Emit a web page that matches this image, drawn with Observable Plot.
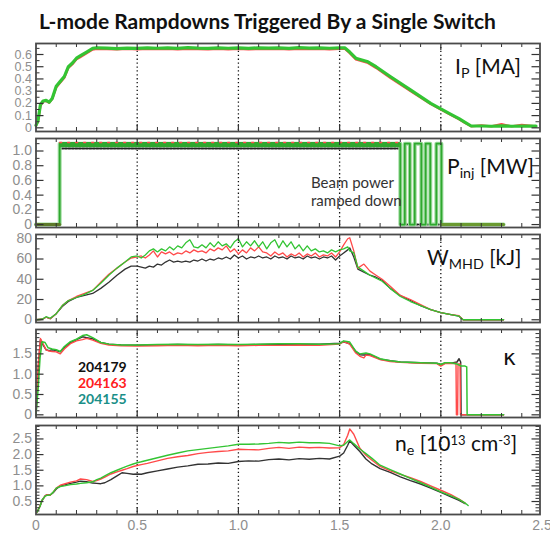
<!DOCTYPE html>
<html><head><meta charset="utf-8">
<script src="https://cdn.jsdelivr.net/npm/d3@7"></script>
<script src="https://cdn.jsdelivr.net/npm/@observablehq/plot@0.6"></script>
<style>
body{margin:0;background:#fff;}
#chart{position:relative;width:550px;height:535px;overflow:hidden;background:#fff;}
.lbl{position:absolute;white-space:nowrap;color:#111;line-height:1;font-family:Lato,"Open Sans",sans-serif;}
.sub{font-size:0.68em;position:relative;top:0.3em;}
.sup{font-size:0.62em;position:relative;top:-0.45em;}
</style></head><body><div id="chart"></div>
<script>
// ---------- shots ----------
const shots = ["204179", "204163", "204155"];
const shotColors = ["#111111", "#ff2020", "#1a8f88"];

// ---------- shared x ticks ----------
const gridX = [0.5, 1.0, 1.5, 2.0];
const xMajorTicks = [0.5, 1.0, 1.5, 2.0];
const xMinorTicks = [0.1,0.2,0.3,0.4,0.6,0.7,0.8,0.9,1.1,1.2,1.3,1.4,1.6,1.7,1.8,1.9,2.1,2.2,2.3,2.4];
const xLabelTicks = [0, 0.5, 1.0, 1.5, 2.0, 2.5];
const xLabelText = ["0", "0.5", "1.0", "1.5", "2.0", "2.5"];

// ---------- Panel 1: Ip [MA] ----------
const ipT = [0,0.01,0.022,0.035,0.05,0.065,0.08,0.1,0.12,0.14,0.16,0.18,0.2,0.22,0.25,0.28,0.3,0.35,0.4,0.45,0.5,0.55,0.6,0.65,0.7,0.75,0.8,0.85,0.9,0.95,1.0,1.05,1.1,1.15,1.2,1.25,1.3,1.35,1.4,1.45,1.5,1.525,1.55,1.58,1.61,1.64,1.68,1.75,1.85,1.95,2.0,2.05,2.09,2.12,2.15,2.2,2.25,2.3,2.35,2.4,2.47];
const ipGreen = [0.02,0.06,0.19,0.22,0.225,0.21,0.24,0.34,0.38,0.42,0.5,0.53,0.57,0.59,0.62,0.65,0.655,0.652,0.648,0.652,0.65,0.655,0.651,0.654,0.65,0.656,0.652,0.65,0.655,0.651,0.654,0.65,0.655,0.652,0.654,0.65,0.656,0.652,0.655,0.651,0.654,0.655,0.62,0.57,0.555,0.54,0.5,0.42,0.31,0.2,0.155,0.11,0.075,0.045,0.015,0.015,0.013,0.016,0.013,0.015,0.014];
const ipRed = [0.02,0.05,0.18,0.215,0.22,0.205,0.235,0.33,0.37,0.41,0.49,0.52,0.56,0.58,0.61,0.64,0.645,0.643,0.641,0.645,0.642,0.646,0.643,0.645,0.641,0.646,0.643,0.641,0.645,0.642,0.645,0.641,0.646,0.643,0.645,0.641,0.646,0.643,0.646,0.642,0.645,0.648,0.61,0.56,0.545,0.53,0.49,0.41,0.3,0.195,0.15,0.105,0.07,0.04,0.012,0.02,0.012,0.03,0.012,0.025,0.012];
const ipBlack = [0.02,0.055,0.185,0.218,0.222,0.208,0.238,0.335,0.375,0.415,0.495,0.525,0.565,0.585,0.615,0.645,0.65,0.648,0.645,0.648,0.646,0.65,0.647,0.65,0.646,0.65,0.647,0.646,0.65,0.646,0.65,0.646,0.65,0.647,0.65,0.646,0.65,0.647,0.65,0.646,0.65,0.652,0.615,0.565,0.55,0.535,0.495,0.415,0.305,0.198,0.152,0.108,0.072,0.042,0.013,0.014,0.012,0.014,0.012,0.014,0.012];
const ipMajor = [0,0.1,0.2,0.3,0.4,0.5,0.6];
const ipMinor = [0.05,0.15,0.25,0.35,0.45,0.55,0.65];

// ---------- Panel 2: Pinj [MW] ----------
const pGreenT = [0,0.117,0.117,1.80,1.80,1.822,1.822,1.847,1.847,1.871,1.871,1.904,1.904,1.925,1.925,1.948,1.948,1.978,1.978,2.003,2.003,2.31];
const pGreen  = [0,0,1.1,1.1,0,0,1.1,1.1,0,0,1.1,1.1,0,0,1.1,1.1,0,0,1.1,1.1,0,0];
const pRedT = [0,0.117,0.117,1.797,1.797,1.826,1.826,1.85,1.85,1.874,1.874,1.906,1.906,1.927,1.927,1.95,1.95,1.98,1.98,2.003,2.003];
const pRed  = [0,0,1.11,1.11,0,0,1.1,1.1,0,0,1.1,1.1,0,0,1.1,1.1,0,0,1.1,1.1,0];
const pBlackT = [0,0.117,0.117,1.80,1.80,2.31];
const pBlack  = [0,0,1.035,1.035,0,0];
const pBandT  = [0.117,1.80];
const pBandLo = [1.045,1.045];
const pBandHi = [1.115,1.115];
const pMajor = [0,0.2,0.4,0.6,0.8,1.0];
const pMinor = [0.1,0.3,0.5,0.7,0.9,1.1];

// ---------- Panel 3: W_MHD [kJ] ----------
const wT = [0,0.03,0.05,0.07,0.1,0.13,0.16,0.2,0.24,0.28,0.32,0.36,0.4,0.44,0.47,
 0.5,0.52,0.54,0.56,0.58,0.6,0.62,0.64,0.66,0.68,0.7,0.72,0.74,0.76,0.78,0.8,0.82,0.84,0.86,0.88,0.9,0.92,0.94,0.96,0.98,1.0,1.02,1.04,1.06,1.08,1.1,1.12,1.14,1.16,1.18,1.2,1.22,1.24,1.26,1.28,1.3,1.32,1.34,1.36,1.38,1.4,1.42,1.44,1.46,1.48,1.5,1.52,1.54,
 1.55,1.57,1.59,1.62,1.65,1.68,1.71,1.75,1.8,1.85,1.9,1.95,2.0,2.05,2.09,2.11,2.2,2.31];
const wBlack = [0,0.5,2.5,1,6,13,18,22,24,26,31,37,44,50,53,
 53,52,51,53,52,55,54,57,59,57,58,57,58,57,59,58,60,58,60,59,61,60,62,60,64,61,63,60,62,61,63,61,62,60,63,61,62,60,63,61,62,60,63,61,62,60,62,61,63,59,63,66,69,
 71,62,50,47,44,42,39,31,24,19,14,10,7,5,3.5,0,0,0];
const wRed = [0,0.5,2.5,1,6,14,19,23,26,29,37,45,51,57,61,
 62,63,61,64,68,62,67,65,67,64,66,65,68,66,69,67,68,66,70,68,71,69,73,67,70,65,69,66,71,68,72,67,
 66,63,67,64,66,62,65,63,66,62,65,63,66,62,64,63,66,62,67,74,80,
 81,68,51,55,48,44,40,33,24,20,15,10,7,5,4,0,0,0];
const wGreen = [0,0.5,3,1.5,6,14,19,22,25,29,36,44,51,57,62,
 63,61,64,68,70,67,70,68,72,69,73,71,76,79,72,71,74,71,76,72,77,73,75,71,77,80,72,77,73,78,72,77,70,76,79,71,78,72,77,70,74,68,73,68,70,67,68,66,69,67,69,70,72,
 68,66,52,48,44,41,38,31,23,18,14,10,7,5,3.5,0,0,0];
const wMajor = [0,20,40,60,80];
const wMinor = [10,30,50,70];

// ---------- Panel 4: kappa ----------
const kBlackT = [0,0.012,0.022,0.035,0.05,0.065,0.08,0.1,0.12,0.14,0.17,0.2,0.23,0.25,0.28,0.32,0.36,0.42,0.5,0.6,0.7,0.8,0.9,1.0,1.1,1.2,1.3,1.4,1.5,1.52,1.55,1.58,1.6,1.62,1.65,1.7,1.75,1.8,1.9,1.98,2.0,2.02,2.05,2.08,2.09,2.098,2.1,2.2,2.31];
const kBlack  = [0,1.2,1.85,1.72,1.6,1.58,1.6,1.58,1.55,1.65,1.78,1.85,1.92,1.9,1.87,1.78,1.74,1.72,1.71,1.72,1.73,1.72,1.73,1.72,1.73,1.74,1.74,1.74,1.76,1.8,1.75,1.56,1.48,1.47,1.48,1.37,1.33,1.3,1.28,1.27,1.24,1.27,1.27,1.3,1.38,1.3,0,0,0];
const kRedT = [0,0.012,0.022,0.035,0.05,0.065,0.08,0.1,0.12,0.14,0.17,0.2,0.23,0.25,0.28,0.32,0.36,0.42,0.5,0.6,0.7,0.8,0.9,1.0,1.1,1.2,1.3,1.4,1.5,1.52,1.55,1.58,1.6,1.62,1.63,1.65,1.7,1.75,1.8,1.9,1.98,2.0,2.02,2.05,2.075,2.077,2.083,2.085,2.095,2.097,2.2,2.31];
const kRed  = [0,1.3,1.88,1.75,1.6,1.57,1.56,1.55,1.5,1.62,1.75,1.82,1.85,1.88,1.84,1.76,1.72,1.7,1.69,1.7,1.71,1.7,1.71,1.7,1.71,1.71,1.72,1.71,1.74,1.8,1.74,1.52,1.44,1.4,1.47,1.46,1.36,1.31,1.29,1.27,1.26,1.2,1.26,1.26,1.27,0,0,1.25,1.25,0,0,0];
const kGreenT = [0,0.01,0.02,0.03,0.045,0.06,0.08,0.1,0.12,0.14,0.17,0.2,0.23,0.25,0.28,0.32,0.36,0.42,0.5,0.6,0.7,0.8,0.9,1.0,1.1,1.2,1.3,1.4,1.5,1.52,1.55,1.58,1.6,1.63,1.65,1.7,1.75,1.8,1.9,1.98,2.0,2.02,2.05,2.08,2.1,2.12,2.128,2.13,2.2,2.31];
const kGreen  = [0,0.6,1.4,1.8,1.78,1.65,1.62,1.6,1.56,1.68,1.8,1.86,1.95,1.97,1.9,1.78,1.74,1.72,1.72,1.73,1.74,1.73,1.74,1.73,1.74,1.75,1.75,1.74,1.75,1.82,1.79,1.56,1.5,1.52,1.5,1.38,1.33,1.3,1.28,1.27,1.24,1.28,1.28,1.25,1.2,1.2,1.18,0,0,0];
const kMajor = [0,0.5,1.0,1.5];
const kMinor = [0.1,0.2,0.3,0.4,0.6,0.7,0.8,0.9,1.1,1.2,1.3,1.4,1.6,1.7,1.8,1.9,2.0];

// ---------- Panel 5: ne [1e13 cm^-3] ----------
const neT = [0.005,0.02,0.03,0.045,0.055,0.07,0.085,0.1,0.12,0.14,0.17,0.2,0.22,0.25,0.28,0.3,0.32,0.34,0.37,0.4,0.425,0.45,0.48,0.5,0.52,0.55,0.6,0.65,0.7,0.75,0.8,0.85,0.9,0.95,1.0,1.05,1.1,1.15,1.2,1.25,1.3,1.35,1.4,1.45,1.5,1.52,1.54,1.55,1.57,1.6,1.63,1.66,1.7,1.75,1.8,1.85,1.9,1.95,2.0,2.05,2.09,2.12,2.135];
const neBlack = [0.16,0.35,0.53,0.68,0.72,0.71,0.78,0.9,1.0,1.03,1.08,1.12,1.15,1.13,1.09,1.08,1.07,1.1,1.2,1.32,1.42,1.4,1.37,1.38,1.37,1.42,1.48,1.54,1.6,1.64,1.69,1.7,1.73,1.72,1.78,1.8,1.79,1.84,1.86,1.83,1.87,1.85,1.88,1.86,1.95,2.05,2.3,2.44,2.3,2.1,1.86,1.7,1.55,1.43,1.29,1.17,1.06,0.93,0.79,0.65,0.54,0.43,null];
const neRed = [0.16,0.36,0.54,0.68,0.72,0.7,0.8,0.93,1.02,1.06,1.12,1.16,1.22,1.2,1.14,1.17,1.22,1.28,1.38,1.45,1.5,1.55,1.62,1.65,1.68,1.72,1.8,1.88,1.93,1.97,2.03,2.07,2.1,2.12,2.17,2.16,2.15,2.2,2.23,2.2,2.24,2.22,2.23,2.21,2.22,2.32,2.62,2.82,2.65,2.2,1.98,1.82,1.62,1.48,1.37,1.26,1.14,1.0,0.86,0.72,0.58,0.45,null];
const neGreen = [0.16,0.35,0.55,0.67,0.7,0.71,0.8,0.93,0.98,1.0,1.04,1.06,1.08,1.1,1.13,1.2,1.25,1.32,1.42,1.5,1.57,1.63,1.7,1.74,1.77,1.82,1.9,1.98,2.05,2.12,2.16,2.2,2.24,2.28,2.33,2.33,2.34,2.36,2.39,2.37,2.4,2.38,2.38,2.36,2.28,2.3,2.42,2.47,2.35,2.18,2.03,1.88,1.66,1.52,1.38,1.24,1.1,0.96,0.81,0.68,0.57,0.45,0.37];
const neMajor = [0.5,1.0,1.5,2.0,2.5];
const neMinor = [0.2,0.3,0.4,0.6,0.7,0.8,0.9,1.1,1.2,1.3,1.4,1.6,1.7,1.8,1.9,2.1,2.2,2.3,2.4,2.6,2.7,2.8,2.9];

// ---------- drawing ----------
const W = 550, ML = 35.5, MR = 10.5, FW = W - ML - MR;
const GREEN = "#33c433", RED = "#ff4a4a", BLACK = "#333333";
const zipTV = (t, v) => t.map((x, i) => ({t: x, v: v[i]}));
const chart = document.getElementById("chart");

function panel({top, h, yDomain, yMajor, yMinor, fmt, marks, xAxis = false, labelSize = 14}) {
  const mt = 2, mb = xAxis ? 21 : 2;
  const tickStroke = "#333";
  const p = Plot.plot({
    width: W, height: h + mt + mb,
    marginLeft: ML, marginRight: MR, marginTop: mt, marginBottom: mb,
    x: {domain: [0, 2.49], axis: null},
    y: {domain: yDomain, axis: null},
    style: {background: "transparent", overflow: "visible", fontFamily: "'Liberation Sans', Arial, sans-serif", fontSize: "14px"},
    marks: [
      Plot.ruleX(gridX, {stroke: "#111", strokeWidth: 1.3, strokeDasharray: "1.3,2.6"}),
      ...marks,
      Plot.tickY(yMajor, {insetRight: FW - 8, stroke: tickStroke, strokeWidth: 1.2}),
      Plot.tickY(yMajor, {insetLeft: FW - 8, stroke: tickStroke, strokeWidth: 1.2}),
      Plot.tickY(yMinor, {insetRight: FW - 4, stroke: tickStroke, strokeWidth: 1}),
      Plot.tickY(yMinor, {insetLeft: FW - 4, stroke: tickStroke, strokeWidth: 1}),
      Plot.tickX(xMajorTicks, {insetBottom: h - 7, stroke: tickStroke, strokeWidth: 1.2}),
      Plot.tickX(xMajorTicks, {insetTop: h - 7, stroke: tickStroke, strokeWidth: 1.2}),
      Plot.tickX(xMinorTicks, {insetBottom: h - 4, stroke: tickStroke, strokeWidth: 1}),
      Plot.tickX(xMinorTicks, {insetTop: h - 4, stroke: tickStroke, strokeWidth: 1}),
      Plot.frame({stroke: "#4a4a4a", strokeWidth: 1.8}),
      Plot.axisY(yMajor, {anchor: "left", label: null, tickSize: 0, tickPadding: 4, tickFormat: fmt, fill: "#8e8e8e", fontSize: labelSize}),
      ...(xAxis ? [Plot.axisX(xLabelTicks, {anchor: "bottom", label: null, tickSize: 0, tickPadding: 6, tickFormat: d => xLabelText[xLabelTicks.indexOf(d)], fill: "#8e8e8e", fontSize: 14})] : [])
    ]
  });
  p.style.position = "absolute";
  p.style.left = "0px";
  p.style.top = (top - mt) + "px";
  chart.appendChild(p);
}

const f1 = d => d === 0 ? "0" : d.toFixed(1);

panel({top: 43, h: 88, yDomain: [-0.03, 0.69], yMajor: ipMajor, yMinor: ipMinor, fmt: f1, labelSize: 12.5, marks: [
  Plot.line(zipTV(ipT, ipBlack), {x: "t", y: "v", stroke: BLACK, strokeWidth: 1.5}),
  Plot.line(zipTV(ipT, ipRed), {x: "t", y: "v", stroke: RED, strokeWidth: 2.2}),
  Plot.line(zipTV(ipT, ipGreen), {x: "t", y: "v", stroke: GREEN, strokeWidth: 3.2})
]});

panel({top: 138, h: 89, yDomain: [-0.04, 1.17], yMajor: pMajor, yMinor: pMinor, fmt: f1, marks: [
  Plot.line(zipTV(pBlackT, pBlack), {x: "t", y: "v", stroke: "#222", strokeWidth: 2, strokeDasharray: "2,1.5"}),
  Plot.line(zipTV(pRedT, pRed), {x: "t", y: "v", stroke: RED, strokeWidth: 1.5}),
  Plot.line(zipTV(pGreenT, pGreen), {x: "t", y: "v", stroke: "#9fdc9f", strokeWidth: 4}),
  Plot.line(zipTV(pGreenT, pGreen), {x: "t", y: "v", stroke: "#2fa82f", strokeWidth: 1.8}),
  Plot.areaY(pBandT.map((t, i) => ({t, lo: pBandLo[i], hi: pBandHi[i]})), {x: "t", y1: "lo", y2: "hi", fill: "#2ea82e"}),
  Plot.line(zipTV(pBandT, pBandHi), {x: "t", y: "v", stroke: RED, strokeWidth: 1.4, strokeDasharray: "2,6"}),
  Plot.line(zipTV(pBlackT.slice(0, 2), pBlack.slice(0, 2)), {x: "t", y: "v", stroke: "#5d7a2a", strokeWidth: 3}),
  Plot.line(zipTV(pGreenT.slice(20), pGreen.slice(20)), {x: "t", y: "v", stroke: "#6a9a30", strokeWidth: 3})
]});

panel({top: 234, h: 88, yDomain: [-2.7, 84.2], yMajor: wMajor, yMinor: wMinor, fmt: d => String(d), marks: [
  Plot.line(zipTV(wT, wBlack), {x: "t", y: "v", stroke: BLACK, strokeWidth: 1.3}),
  Plot.line(zipTV(wT, wRed), {x: "t", y: "v", stroke: RED, strokeWidth: 1.3}),
  Plot.line(zipTV(wT, wGreen), {x: "t", y: "v", stroke: GREEN, strokeWidth: 1.3})
]});

panel({top: 329, h: 88, yDomain: [-0.066, 2.1], yMajor: kMajor, yMinor: kMinor, fmt: f1, marks: [
  Plot.line(zipTV(kBlackT, kBlack), {x: "t", y: "v", stroke: BLACK, strokeWidth: 1.5}),
  Plot.line(zipTV(kRedT, kRed), {x: "t", y: "v", stroke: RED, strokeWidth: 1.4}),
  Plot.line(zipTV(kGreenT, kGreen), {x: "t", y: "v", stroke: GREEN, strokeWidth: 1.5})
]});

panel({top: 425, h: 89, yDomain: [0.085, 2.93], yMajor: neMajor, yMinor: neMinor, fmt: f1, xAxis: true, marks: [
  Plot.line(zipTV(neT, neBlack), {x: "t", y: "v", stroke: BLACK, strokeWidth: 1.4, defined: d => d.v != null}),
  Plot.line(zipTV(neT, neRed), {x: "t", y: "v", stroke: RED, strokeWidth: 1.4, defined: d => d.v != null}),
  Plot.line(zipTV(neT, neGreen), {x: "t", y: "v", stroke: GREEN, strokeWidth: 1.4, defined: d => d.v != null})
]});

// ---------- text overlays ----------
function label(html, left, top, css) {
  const d = document.createElement("div");
  d.className = "lbl";
  d.innerHTML = html;
  d.style.left = left + "px";
  d.style.top = top + "px";
  Object.assign(d.style, css || {});
  chart.appendChild(d);
  return d;
}
label("L-mode Rampdowns Triggered By a Single Switch", 0, 10, {width: "535px", textAlign: "center", fontWeight: "700", fontSize: "21px"});
label('I<span class="sub">P</span> [MA]', 455, 55, {fontSize: "21px"});
label('P<span class="sub">inj</span> [MW]', 447, 155, {fontSize: "21px"});
label('W<span class="sub">MHD</span> [kJ]', 427, 246, {fontSize: "21px"});
label('κ', 503, 347, {fontSize: "22px", fontFamily: "'DejaVu Sans', sans-serif"});
label('n<span class="sub">e</span> [10<span class="sup">13</span> cm<span class="sup">-3</span>]', 395, 432, {fontSize: "21px"});
label('Beam power', 311, 175, {fontSize: "15px", color: "#333"});
label('ramped down', 311, 193, {fontSize: "15px", color: "#333"});
shots.forEach((s, i) => label(s, 78, 360 + i * 16, {fontSize: "14px", fontWeight: "700", color: shotColors[i]}));
</script></body></html>
